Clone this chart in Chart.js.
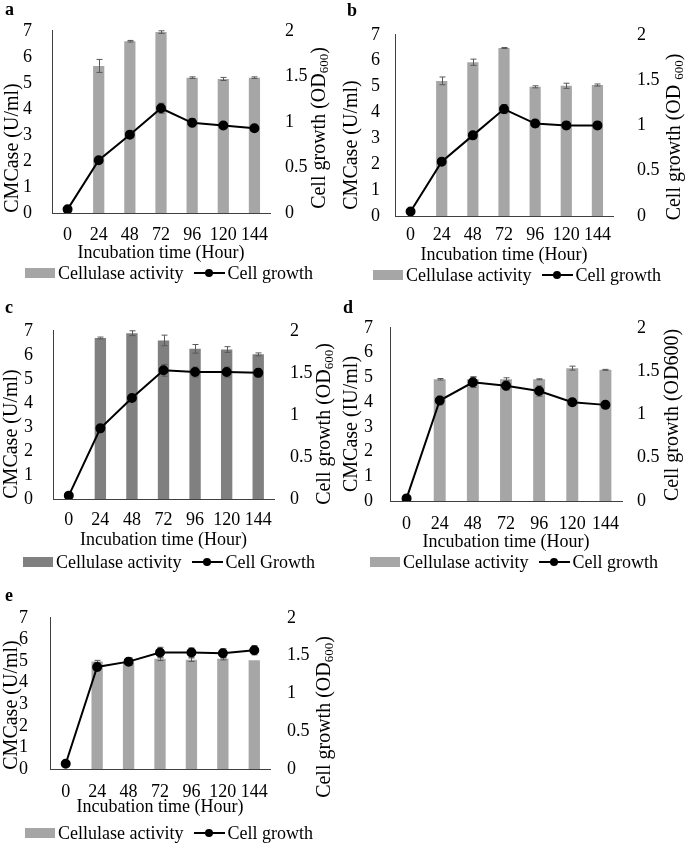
<!DOCTYPE html>
<html>
<head>
<meta charset="utf-8">
<script src="https://cdn.jsdelivr.net/npm/chart.js@4.4.1/dist/chart.umd.min.js"></script>
<style>
  body { margin: 0; background: #fff; width: 685px; height: 843px; position: relative; overflow: hidden;
         font-family: "Liberation Serif", "Times New Roman", serif; color: #000; }
  canvas { position: absolute; }
  .tag { position: absolute; font-weight: bold; font-size: 18px; line-height: 18px; }
  .legend { position: absolute; height: 20px; font-size: 18px; line-height: 20px; white-space: nowrap; display: flex; align-items: center; }
  .box { display: inline-block; width: 30px; height: 10px; margin-right: 3px; }
  .sym { display: inline-block; position: relative; width: 31px; height: 10px; margin-left: 11px; margin-right: 2px; }
  .sym::before { content: ""; position: absolute; left: 0; right: 0; top: 4px; height: 2px; background: #000; }
  .sym::after { content: ""; position: absolute; left: 11px; top: 1px; width: 8px; height: 8px; border-radius: 50%; background: #000; }
</style>
</head>
<body>
<script>
// categories
const hours = ['0', '24', '48', '72', '96', '120', '144'];

// panel a
const cmcaseA = [0, 5.65, 6.6, 6.95, 5.2, 5.15, 5.2];
const cmcaseErrA = [0, 0.25, 0.03, 0.05, 0.03, 0.06, 0.03];
const growthA = [0.04, 0.58, 0.86, 1.15, 0.99, 0.96, 0.93];
const growthErrA = [0, 0.02, 0.03, 0.055, 0.045, 0.035, 0.02];

// panel b
const cmcaseB = [0, 5.22, 5.94, 6.49, 4.99, 5.03, 5.06];
const cmcaseErrB = [0, 0.15, 0.12, 0.02, 0.04, 0.1, 0.04];
const growthB = [0.05, 0.6, 0.89, 1.18, 1.02, 1.0, 1.0];
const growthErrB = [0, 0.02, 0.03, 0.05, 0.04, 0.04, 0.04];

// panel c
const cmcaseC = [0, 6.7, 6.9, 6.6, 6.25, 6.22, 6.02];
const cmcaseErrC = [0, 0.04, 0.1, 0.22, 0.18, 0.12, 0.06];
const growthC = [0.04, 0.84, 1.2, 1.53, 1.51, 1.51, 1.5];
const growthErrC = [0, 0, 0, 0.07, 0.06, 0.06, 0.05];

// panel d
const cmcaseD = [0, 4.92, 4.92, 4.92, 4.92, 5.37, 5.3];
const cmcaseErrD = [0, 0.03, 0.1, 0.06, 0.02, 0.08, 0.02];
const growthD = [0.03, 1.16, 1.37, 1.33, 1.27, 1.14, 1.11];
const growthErrD = [0, 0.05, 0.06, 0.05, 0.06, 0.04, 0.04];

// panel e
const cmcaseE = [0, 4.98, 4.93, 5.1, 5.06, 5.1, 5.03];
const cmcaseErrE = [0, 0.05, 0.02, 0.08, 0.08, 0.05, 0];
const growthE = [0.07, 1.35, 1.42, 1.54, 1.54, 1.53, 1.57];
const growthErrE = [0, 0.05, 0.05, 0.07, 0.06, 0.06, 0.06];

// axis ticks
const cmcaseTicks = { min: 0, max: 7, step: 1 };
const growthTicks = { min: 0, max: 2, step: 0.5 };

const serif = '"Liberation Serif", "Times New Roman", serif';
Chart.defaults.font.family = serif;
Chart.defaults.font.size = 18;
Chart.defaults.color = '#000';

// draws +/- error bars from each dataset's errors array
const errorBars = {
  id: 'errorBars',
  draw(chart, index, meta) {
    const ds = chart.data.datasets[index];
    if (!ds.errors) return;
    const yScale = chart.scales[ds.yAxisID];
    const ctx = chart.ctx;
    ctx.save();
    ctx.strokeStyle = '#595959';
    ctx.lineWidth = 1;
    meta.data.forEach((el, i) => {
      const e = ds.errors[i];
      if (!e) return;
      const x = Math.round(el.x) + 0.5;
      const top = yScale.getPixelForValue(ds.data[i] + e);
      const bot = yScale.getPixelForValue(ds.data[i] - e);
      ctx.beginPath();
      ctx.moveTo(x, top); ctx.lineTo(x, bot);
      ctx.moveTo(x - 3, top); ctx.lineTo(x + 3, top);
      ctx.moveTo(x - 3, bot); ctx.lineTo(x + 3, bot);
      ctx.stroke();
    });
    ctx.restore();
  },
  beforeDatasetDraw(chart, args) {
    if (chart.data.datasets[args.index].type === 'line') this.draw(chart, args.index, args.meta);
  },
  afterDatasetDraw(chart, args) {
    if (chart.data.datasets[args.index].type === 'bar') this.draw(chart, args.index, args.meta);
  }
};

// rotated axis title, reading bottom to top; parts may be subscripts
function drawRotated(ctx, parts, cx, cy) {
  ctx.save();
  ctx.translate(cx, cy);
  ctx.rotate(-Math.PI / 2);
  ctx.fillStyle = '#000';
  ctx.textBaseline = 'middle';
  ctx.textAlign = 'left';
  const fontOf = pt => (pt.sub ? '13px ' : '20px ') + serif;
  let total = 0;
  parts.forEach(pt => { ctx.font = fontOf(pt); total += ctx.measureText(pt.t).width; });
  let x = -total / 2;
  parts.forEach(pt => {
    ctx.font = fontOf(pt);
    ctx.fillText(pt.t, x, pt.sub ? 5 : 0);
    x += ctx.measureText(pt.t).width;
  });
  ctx.restore();
}

function makePanel(p) {
  const cv = document.createElement('canvas');
  cv.width = p.w; cv.height = p.h;
  cv.style.left = p.x + 'px'; cv.style.top = p.y + 'px';
  document.body.appendChild(cv);

  const titles = {
    id: 'titles',
    afterDraw(chart) {
      drawRotated(chart.ctx, [{ t: p.leftTitle }], p.ltX - p.x, p.ltY - p.y);
      drawRotated(chart.ctx, p.rightTitle, p.rtX - p.x, p.rtY - p.y);
    }
  };

  new Chart(cv, {
    data: {
      labels: hours,
      datasets: [
        { type: 'bar', label: 'Cellulase activity', data: p.bars, errors: p.barErr, yAxisID: 'y',
          backgroundColor: p.barColor, barPercentage: 0.36, categoryPercentage: 1, order: 2 },
        { type: 'line', label: p.lineLabel, data: p.line, errors: p.lineErr, yAxisID: 'y1',
          borderColor: '#000', borderWidth: 2, pointRadius: 4, pointBackgroundColor: '#000',
          pointBorderColor: '#000', tension: 0, order: 1 }
      ]
    },
    options: {
      responsive: false,
      animation: false,
      layout: { padding: { top: p.T - p.y, left: 0, right: 0, bottom: 0 } },
      plugins: { legend: { display: false }, tooltip: { enabled: false } },
      scales: {
        x: {
          grid: { display: false, drawTicks: false },
          border: { color: '#404040', width: 1 },
          ticks: { padding: p.xPad, maxRotation: 0, autoSkip: false },
          title: { display: true, text: 'Incubation time (Hour)', padding: { top: p.titlePad, bottom: 0 } },
          afterFit: s => { s.height = p.y + p.h - p.B; }
        },
        y: {
          position: 'left', min: cmcaseTicks.min, max: cmcaseTicks.max,
          grid: { display: false, drawTicks: false },
          border: { color: '#404040', width: 1 },
          ticks: { stepSize: cmcaseTicks.step, padding: p.leftPad, autoSkip: false },
          afterFit: s => { s.width = p.L - p.x; }
        },
        y1: {
          position: 'right', min: growthTicks.min, max: growthTicks.max,
          grid: { display: false, drawTicks: false },
          border: { display: false },
          ticks: { stepSize: growthTicks.step, padding: p.rightPad, autoSkip: false, callback: v => String(v) },
          afterFit: s => { s.width = p.x + p.w - p.R; }
        }
      }
    },
    plugins: [errorBars, titles]
  });

  const tag = document.createElement('div');
  tag.className = 'tag';
  tag.textContent = p.tag;
  tag.style.left = p.tagX + 'px'; tag.style.top = p.tagY + 'px';
  document.body.appendChild(tag);

  const lg = document.createElement('div');
  lg.className = 'legend';
  lg.style.left = p.lgX + 'px'; lg.style.top = (p.lgY - 10) + 'px';
  lg.innerHTML = '<span class="box" style="background:' + p.barColor + '"></span>Cellulase activity' +
    '<span class="sym"></span>' + p.lineLabel;
  document.body.appendChild(lg);
}

const light = '#a6a6a6';
const dark = '#808080';
const odSub = [{ t: 'Cell growth (OD' }, { t: '600', sub: true }, { t: ')' }];

makePanel({ tag: 'a', tagX: 5, tagY: 0, x: 0, y: 0, w: 340, h: 264, L: 52, R: 270, T: 20, B: 213,
  bars: cmcaseA, barErr: cmcaseErrA, line: growthA, lineErr: growthErrA, barColor: light,
  lineLabel: 'Cell growth', leftTitle: 'CMCase (U/ml)', rightTitle: odSub,
  ltX: 13, ltY: 148, rtX: 320, rtY: 128,
  xPad: 11, titlePad: 0, leftPad: 20, rightPad: 15, lgX: 25, lgY: 273 });

makePanel({ tag: 'b', tagX: 347, tagY: 1, x: 340, y: 0, w: 345, h: 266, L: 395, R: 613, T: 18, B: 216,
  bars: cmcaseB, barErr: cmcaseErrB, line: growthB, lineErr: growthErrB, barColor: light,
  lineLabel: 'Cell growth', leftTitle: 'CMCase (U/ml)',
  rightTitle: [{ t: 'Cell growth (OD ' }, { t: '600', sub: true }, { t: ')' }],
  ltX: 352, ltY: 145, rtX: 675, rtY: 137,
  xPad: 8, titlePad: 6, leftPad: 15, rightPad: 24, lgX: 373, lgY: 275 });

makePanel({ tag: 'c', tagX: 5, tagY: 298, x: 0, y: 300, w: 340, h: 251, L: 53, R: 274, T: 321, B: 499,
  bars: cmcaseC, barErr: cmcaseErrC, line: growthC, lineErr: growthErrC, barColor: dark,
  lineLabel: 'Cell Growth', leftTitle: 'CMCase (U/ml)', rightTitle: odSub,
  ltX: 12, ltY: 434, rtX: 325, rtY: 424,
  xPad: 10, titlePad: 0, leftPad: 20, rightPad: 16, lgX: 23, lgY: 562 });

makePanel({ tag: 'd', tagX: 343, tagY: 298, x: 340, y: 300, w: 345, h: 253, L: 390, R: 622, T: 315, B: 501,
  bars: cmcaseD, barErr: cmcaseErrD, line: growthD, lineErr: growthErrD, barColor: light,
  lineLabel: 'Cell growth', leftTitle: 'CMCase (IU/ml)', rightTitle: [{ t: 'Cell growth (OD600)' }],
  ltX: 352, ltY: 424, rtX: 673, rtY: 415,
  xPad: 12, titlePad: 0, leftPad: 17, rightPad: 15, lgX: 370, lgY: 562 });

makePanel({ tag: 'e', tagX: 5, tagY: 586, x: 0, y: 585, w: 340, h: 233, L: 50, R: 270, T: 603, B: 769,
  bars: cmcaseE, barErr: cmcaseErrE, line: growthE, lineErr: growthErrE, barColor: light,
  lineLabel: 'Cell growth', leftTitle: 'CMCase (U/ml)', rightTitle: odSub,
  ltX: 12, ltY: 705, rtX: 325, rtY: 717,
  xPad: 12, titlePad: 0, leftPad: 22, rightPad: 17, lgX: 25, lgY: 833 });
</script>
</body>
</html>
